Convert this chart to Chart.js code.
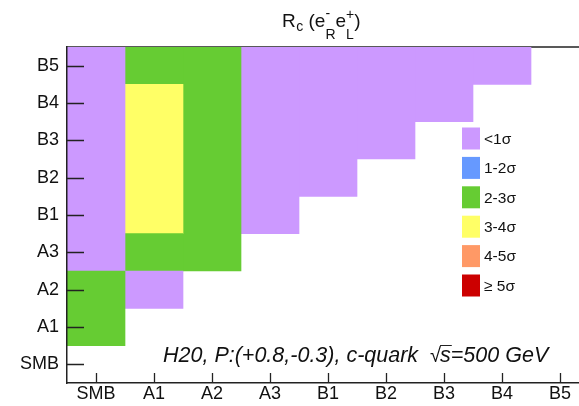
<!DOCTYPE html>
<html>
<head>
<meta charset="utf-8">
<script src="https://cdn.jsdelivr.net/npm/chart.js@4.4.1/dist/chart.umd.min.js"></script>
<style>
  html, body { margin: 0; padding: 0; overflow: hidden; background: #fff; }
  #wrap { position: relative; width: 590px; height: 406px; }
</style>
</head>
<body>
<div id="wrap"><canvas id="sigChart" width="590" height="406"></canvas></div>
<script>
// ---- data ----
const xLabels = ["SMB", "A1", "A2", "A3", "B1", "B2", "B3", "B4", "B5"];
const yLabels = ["SMB", "A1", "A2", "A3", "B1", "B2", "B3", "B4", "B5"];
const sigmaLabels = ["<1σ", "1-2σ", "2-3σ", "3-4σ", "4-5σ", "≥ 5σ"];
const sigmaColors = ["#cc99ff", "#6699ff", "#66cc33", "#ffff66", "#ff9966", "#cc0000"];

// significance class of each cell (index into sigmaLabels), columns follow xLabels, null = empty
const rowSMB = [null, null, null, null, null, null, null, null, null];
const rowA1  = [2, null, null, null, null, null, null, null, null];
const rowA2  = [2, 0, null, null, null, null, null, null, null];
const rowA3  = [0, 2, 2, null, null, null, null, null, null];
const rowB1  = [0, 3, 2, 0, null, null, null, null, null];
const rowB2  = [0, 3, 2, 0, 0, null, null, null, null];
const rowB3  = [0, 3, 2, 0, 0, 0, null, null, null];
const rowB4  = [0, 3, 2, 0, 0, 0, 0, null, null];
const rowB5  = [0, 2, 2, 0, 0, 0, 0, 0, null];
const rows = [rowSMB, rowA1, rowA2, rowA3, rowB1, rowB2, rowB3, rowB4, rowB5];

const titleText = "R";
const noteText = "H20, P:(+0.8,-0.3), c-quark";

Chart.defaults.font.family = "'Liberation Sans', Arial, sans-serif";
Chart.defaults.color = "#111";

// -------------------------------
// turn each column into vertical runs of equal class -> floating bars
// -------------------------------
const runs = [];
xLabels.forEach((_, c) => {
  let r = 0;
  while (r < rows.length) {
    const cls = rows[r][c];
    if (cls === null) { r++; continue; }
    let end = r;
    while (end + 1 < rows.length && rows[end + 1][c] === cls) end++;
    runs.push({ c: c, cls: cls, from: r - 0.5, to: end + 0.5 });
    r = end + 1;
  }
});

const datasets = runs.map(run => ({
  label: sigmaLabels[run.cls],
  data: xLabels.map((_, i) => (i === run.c ? [run.from, run.to] : null)),
  backgroundColor: sigmaColors[run.cls],
  borderWidth: 0,
  barPercentage: 1,
  categoryPercentage: 1,
  grouped: false
}));

// -------------------------------
// extra drawing: frame, inner ticks, legend, title, note
// -------------------------------
const decor = {
  id: "decor",
  beforeDatasetsDraw(chart) {
    const { ctx, chartArea } = chart;
    ctx.save();
    ctx.strokeStyle = "#222";
    ctx.lineWidth = 1.5;
    ctx.beginPath();
    ctx.moveTo(chartArea.left, chartArea.top);
    ctx.lineTo(chartArea.right, chartArea.top);
    ctx.stroke();
    ctx.restore();
  },
  afterDraw(chart) {
    const { ctx, chartArea } = chart;
    const xs = chart.scales.x;
    const ys = chart.scales.y;
    ctx.save();

    // tick marks pointing into the plot
    ctx.strokeStyle = "#222";
    ctx.lineWidth = 1.3;
    ctx.beginPath();
    ys.ticks.forEach(t => {
      const y = Math.round(ys.getPixelForValue(t.value)) + 0.5;
      ctx.moveTo(chartArea.left, y);
      ctx.lineTo(chartArea.left + 17, y);
    });
    xLabels.forEach((_, i) => {
      const x = Math.round(xs.getPixelForValue(i)) + 0.5;
      ctx.moveTo(x, chartArea.bottom);
      ctx.lineTo(x, chartArea.bottom - 10);
    });
    ctx.stroke();

    // legend
    ctx.font = "15.5px 'Liberation Sans', Arial, sans-serif";
    ctx.textBaseline = "middle";
    ctx.textAlign = "left";
    sigmaLabels.forEach((lab, i) => {
      const top = 127.5 + i * 29.4;
      ctx.fillStyle = sigmaColors[i];
      ctx.fillRect(462, top, 18, 22);
      ctx.fillStyle = "#111";
      ctx.fillText(lab, 484, top + 12);
    });

    // title  R_c (e^-_R e^+_L)
    ctx.textBaseline = "alphabetic";
    const big = "19px 'Liberation Sans', Arial, sans-serif";
    const small = "14px 'Liberation Sans', Arial, sans-serif";
    let x = 282;
    const base = 27;
    ctx.font = big; ctx.fillText(titleText, x, base); x += ctx.measureText(titleText).width + 0.5;
    ctx.font = small; ctx.fillText("c", x, base + 4); x += ctx.measureText("c").width;
    ctx.font = big; ctx.fillText(" (e", x, base); x += ctx.measureText(" (e").width;
    ctx.font = small;
    ctx.fillText("-", x, base - 9);
    ctx.fillText("R", x, base + 12);
    x += ctx.measureText("R").width;
    ctx.font = big; ctx.fillText("e", x, base); x += ctx.measureText("e").width;
    ctx.font = small;
    ctx.fillText("+", x, base - 8);
    ctx.fillText("L", x, base + 12);
    x += ctx.measureText("+").width;
    ctx.font = big; ctx.fillText(")", x, base);

    // note
    const nf = "italic 21.5px 'Liberation Sans', Arial, sans-serif";
    ctx.font = nf;
    let nx = 163;
    const nb = 362;
    ctx.fillText(noteText + "  ", nx, nb); nx += ctx.measureText(noteText + "  ").width;
    ctx.font = "20px 'Liberation Sans', Arial, sans-serif";
    ctx.fillText("√", nx, nb); nx += ctx.measureText("√").width - 1;
    ctx.font = nf;
    const sw = ctx.measureText("s").width;
    ctx.fillText("s", nx, nb);
    ctx.lineWidth = 1;
    ctx.beginPath();
    ctx.moveTo(nx, nb - 16.5);
    ctx.lineTo(nx + sw + 1, nb - 16.5);
    ctx.stroke();
    nx += sw;
    ctx.fillText("=500 GeV", nx, nb);

    ctx.restore();
  }
};

new Chart(document.getElementById("sigChart"), {
  type: "bar",
  data: { labels: xLabels, datasets: datasets },
  options: {
    responsive: false,
    animation: false,
    devicePixelRatio: 1,
    layout: { padding: { left: 0, top: 47, right: 1, bottom: 0 } },
    plugins: { legend: { display: false }, tooltip: { enabled: false }, title: { display: false } },
    scales: {
      x: {
        type: "category",
        offset: true,
        grid: { display: false, drawTicks: false },
        border: { display: true, color: "#222", width: 1.5, z: 1 },
        ticks: { font: { size: 18, lineHeight: 1 }, padding: 2, maxRotation: 0, autoSkip: false, color: "#111" },
        afterFit(scale) { scale.height = 23; }
      },
      y: {
        type: "linear",
        min: -0.5,
        max: 8.5,
        grid: { display: false, drawTicks: false },
        border: { display: true, color: "#222", width: 1.5, z: 1 },
        afterBuildTicks(scale) { scale.ticks = yLabels.map((_, i) => ({ value: i })); },
        ticks: {
          font: { size: 18 },
          padding: 8,
          autoSkip: false,
          color: "#111",
          callback: v => yLabels[v]
        },
        afterFit(scale) { scale.width = 67; }
      }
    }
  },
  plugins: [decor]
});
</script>
</body>
</html>
